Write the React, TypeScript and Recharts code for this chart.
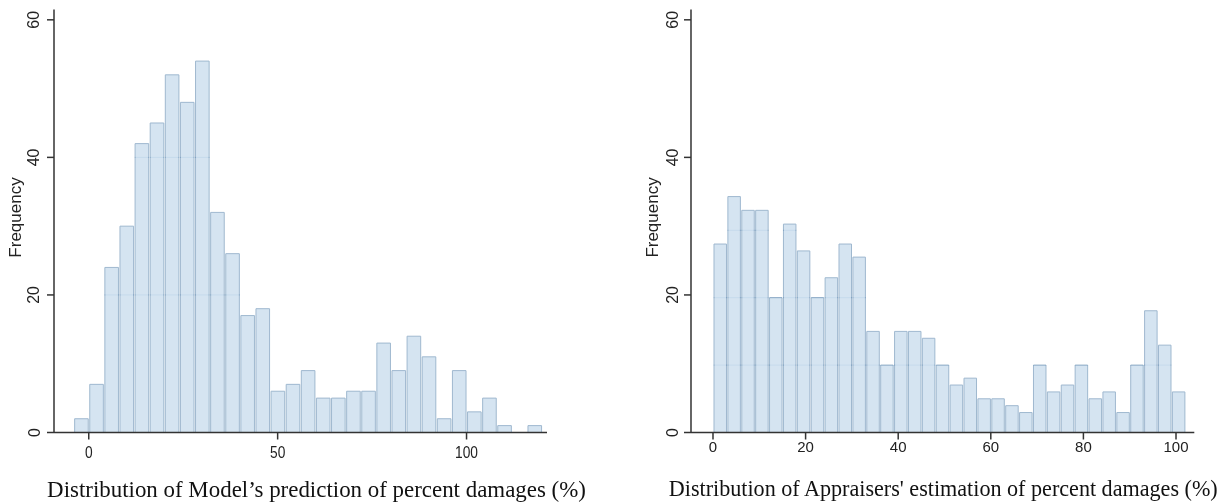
import { Bar, BarChart, ReferenceLine, XAxis, YAxis } from 'recharts'

// Model's prediction histogram: bin centres (width 4) and counts
const MODEL_BINS = [
  -2, 2, 6, 10, 14, 18, 22, 26, 30, 34, 38, 42, 46, 50, 54, 58, 62, 66, 70, 74, 78, 82, 86, 90, 94,
  98, 102, 106, 110, 114, 118,
]
const MODEL_FREQ = [
  2, 7, 24, 30, 42, 45, 52, 48, 54, 32, 26, 17, 18, 6, 7, 9, 5, 5, 6, 6, 13, 9, 14, 11, 2, 9, 3, 5,
  1, 0, 1,
]
const MODEL_X_TICKS = [0, 50, 100]
const MODEL_GRID = [20, 40]

// Appraisers' estimation histogram: bin centres (width 3) and heights
const APPR_BINS = [
  1.5, 4.5, 7.5, 10.5, 13.5, 16.5, 19.5, 22.5, 25.5, 28.5, 31.5, 34.5, 37.5, 40.5, 43.5, 46.5, 49.5,
  52.5, 55.5, 58.5, 61.5, 64.5, 67.5, 70.5, 73.5, 76.5, 79.5, 82.5, 85.5, 88.5, 91.5, 94.5, 97.5,
  100.5,
]
const APPR_FREQ = [
  27.4, 34.3, 32.3, 32.3, 19.6, 30.3, 26.4, 19.6, 22.5, 27.4, 25.5, 14.7, 9.8, 14.7, 14.7, 13.7,
  9.8, 6.9, 7.9, 4.9, 4.9, 3.9, 2.9, 9.8, 5.9, 6.9, 9.8, 4.9, 5.9, 2.9, 9.8, 17.7, 12.7, 5.9,
]
const APPR_X_TICKS = [0, 20, 40, 60, 80, 100]
const APPR_GRID = [9.8, 19.6, 29.4]

const Y_TICKS = [0, 20, 40, 60]
const Y_DOMAIN: [number, number] = [0, 61.5]

const SANS = '"Liberation Sans", Arial, sans-serif'
const SERIF = '"Liberation Serif", "Times New Roman", serif'
const AXIS = '#333'
const TEXT = '#222'
const BAR_FILL = '#d5e4f1'
const BAR_STROKE = '#9fb8cf'
const GRID = '#bababa'

const H = 503

function YTick({ x, y, payload, shift }: any) {
  const cx = x - shift
  return (
    <text
      x={cx}
      y={y}
      transform={`rotate(-90 ${cx} ${y})`}
      textAnchor="middle"
      dominantBaseline="central"
      fontSize={16}
      fontFamily={SANS}
      fill={TEXT}
    >
      {payload.value}
    </text>
  )
}

function XTick({ x, y, payload, dy, size, squeeze }: any) {
  return (
    <g transform={`translate(${x},${y})`}>
      <text
        y={dy}
        transform={`scale(${squeeze},1)`}
        textAnchor="middle"
        fontSize={size}
        fontFamily={SANS}
        fill={TEXT}
      >
        {payload.value}
      </text>
    </g>
  )
}

function FreqLabel({ viewBox }: any) {
  if (!viewBox) return null
  const cx = viewBox.x + 15.8
  const cy = viewBox.y + viewBox.height / 2 - 3.5
  return (
    <text
      x={cx}
      y={cy}
      transform={`rotate(-90 ${cx} ${cy})`}
      textAnchor="middle"
      dominantBaseline="central"
      fontSize={17}
      fontFamily={SANS}
      fill={TEXT}
    >
      Frequency
    </text>
  )
}

// the source squeezes the serif caption horizontally, so scale it instead of shrinking the font
function Title({ viewBox, text, shift, squeeze }: any) {
  if (!viewBox) return null
  const cx = viewBox.x + viewBox.width / 2 + shift
  const cy = viewBox.y + 64
  return (
    <text
      transform={`translate(${cx},${cy}) scale(${squeeze},1)`}
      textAnchor="middle"
      fontSize={24}
      fontFamily={SERIF}
      fill="#111"
    >
      {text}
    </text>
  )
}

interface PanelProps {
  bins: number[]
  freq: number[]
  binWidth: number
  xDomain: [number, number]
  xTicks: number[]
  grid: number[]
  width: number
  plotWidth: number
  title: string
  titleShift: number
  titleSqueeze: number
  yShift: number
  tickDy: number
  tickSize: number
  tickSqueeze: number
}

function Panel(p: PanelProps) {
  const rows = p.bins.map((x, i) => ({ x, n: p.freq[i] }))
  const pxPerUnit = p.plotWidth / (p.xDomain[1] - p.xDomain[0])
  return (
    <BarChart
      width={p.width}
      height={H}
      data={rows}
      margin={{ top: 9.5, right: p.width - 54 - p.plotWidth, bottom: 40.5, left: 0 }}
      barCategoryGap={0}
      barGap={0}
    >
      <XAxis
        dataKey="x"
        type="number"
        domain={p.xDomain}
        allowDataOverflow
        ticks={p.xTicks}
        interval={0}
        height={30}
        stroke={AXIS}
        strokeWidth={1.5}
        tickSize={7}
        tickMargin={0}
        tick={<XTick dy={p.tickDy} size={p.tickSize} squeeze={p.tickSqueeze} />}
        label={<Title text={p.title} shift={p.titleShift} squeeze={p.titleSqueeze} />}
      />
      <YAxis
        domain={Y_DOMAIN}
        allowDataOverflow
        ticks={Y_TICKS}
        interval={0}
        width={54}
        stroke={AXIS}
        strokeWidth={1.5}
        tickSize={7}
        tickMargin={0}
        tick={<YTick shift={p.yShift} />}
        label={<FreqLabel />}
      />
      <Bar
        dataKey="n"
        fill={BAR_FILL}
        stroke={BAR_STROKE}
        strokeWidth={1}
        barSize={p.binWidth * pxPerUnit}
        isAnimationActive={false}
      />
      {/* grid lines burn over the bars: invisible on white, darker inside the bars */}
      {p.grid.map((v) => (
        <ReferenceLine key={v} y={v} stroke={GRID} strokeWidth={1} className="grid-burn" />
      ))}
    </BarChart>
  )
}

export default function App() {
  return (
    <div
      style={{
        position: 'absolute',
        left: 0,
        top: 0,
        width: 1231,
        height: H,
        background: '#fff',
        overflow: 'hidden',
      }}
    >
      <style>{`.grid-burn line { mix-blend-mode: color-burn; }`}</style>
      <div style={{ position: 'absolute', left: 0, top: 0 }}>
        <Panel
          bins={MODEL_BINS}
          freq={MODEL_FREQ}
          binWidth={4}
          xDomain={[-9.2, 121.3]}
          xTicks={MODEL_X_TICKS}
          grid={MODEL_GRID}
          width={620}
          plotWidth={493}
          title="Distribution of Model’s prediction of percent damages (%)"
          titleShift={16}
          titleSqueeze={0.955}
          yShift={13}
          tickDy={18.5}
          tickSize={16}
          tickSqueeze={0.86}
        />
      </div>
      <div style={{ position: 'absolute', left: 636.7, top: 0 }}>
        <Panel
          bins={APPR_BINS}
          freq={APPR_FREQ}
          binWidth={3}
          xDomain={[-4.75, 103.95]}
          xTicks={APPR_X_TICKS}
          grid={APPR_GRID}
          width={594.3}
          plotWidth={503.3}
          title="Distribution of Appraisers' estimation of percent damages (%)"
          titleShift={0.6}
          titleSqueeze={0.922}
          yShift={11.5}
          tickDy={12.5}
          tickSize={15}
          tickSqueeze={1}
        />
      </div>
    </div>
  )
}
